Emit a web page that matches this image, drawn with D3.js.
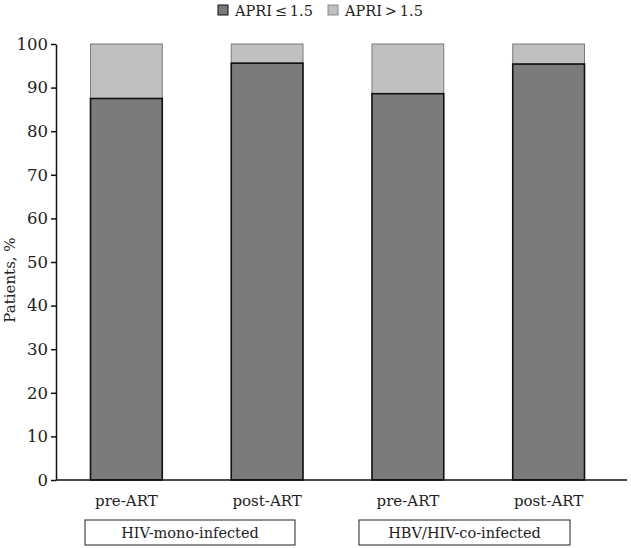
<!DOCTYPE html>
<html>
<head>
<meta charset="utf-8">
<script src="https://cdn.jsdelivr.net/npm/d3@7"></script>
<style>
  body { margin: 0; background: #fff; }
  text { font-family: "DejaVu Serif", serif; fill: #222; }
</style>
</head>
<body>
<svg id="chart" width="631" height="548"></svg>
<script>
var categories = ["pre-ART", "post-ART", "pre-ART", "post-ART"];
var groups = ["HIV-mono-infected", "HBV/HIV-co-infected"];
var apriLow = [87.5, 95.6, 88.6, 95.4];   // APRI <= 1.5
var apriHigh = [12.5, 4.4, 11.4, 4.6];    // APRI > 1.5
var yTicks = [0, 10, 20, 30, 40, 50, 60, 70, 80, 90, 100];
var seriesNames = ["APRI\u2009\u2264\u20091.5", "APRI\u2009>\u20091.5"];

var svg = d3.select("#chart");
var colors = ["#7b7b7b", "#c0c0c0"];

var keys = categories.map(function(d, i) { return i; });

var x = d3.scaleBand()
    .domain(keys)
    .range([56, 619])
    .paddingInner(0.49)
    .paddingOuter(0.245);

var y = d3.scaleLinear()
    .domain([0, 100])
    .range([480, 44]);

// stacked data
var rows = keys.map(function(i) { return { i: i, low: apriLow[i], high: apriHigh[i] }; });
var stack = d3.stack().keys(["low", "high"]);
var layers = stack(rows);

// light top parts first, then dark bars on top of them
svg.append("g").selectAll("rect")
    .data(layers[1])
    .enter().append("rect")
    .attr("x", function(d) { return x(d.data.i); })
    .attr("y", function(d) { return y(d[1]); })
    .attr("width", x.bandwidth())
    .attr("height", function(d) { return y(d[0]) - y(d[1]); })
    .style("fill", colors[1])
    .style("stroke", "#7a7a7a")
    .style("stroke-width", 1);

svg.append("g").selectAll("rect")
    .data(layers[0])
    .enter().append("rect")
    .attr("x", function(d) { return x(d.data.i); })
    .attr("y", function(d) { return y(d[1]); })
    .attr("width", x.bandwidth())
    .attr("height", function(d) { return y(d[0]) - y(d[1]); })
    .style("fill", colors[0])
    .style("stroke", "#111")
    .style("stroke-width", 1.6);

// y axis
var yAxis = svg.append("g")
    .attr("transform", "translate(56,0)")
    .call(d3.axisLeft(y).tickValues(yTicks).tickSize(5).tickSizeOuter(0).tickPadding(3));
yAxis.select(".domain").attr("stroke", "#111").attr("stroke-width", 1.5);
yAxis.selectAll(".tick line").attr("stroke", "#111").attr("stroke-width", 1.5);
yAxis.selectAll("text")
    .style("font-family", "DejaVu Serif, serif")
    .style("font-size", "16.5px")
    .style("fill", "#222");

// x axis line
svg.append("line")
    .attr("x1", 56).attr("x2", 627)
    .attr("y1", y(0)).attr("y2", y(0))
    .attr("stroke", "#111").attr("stroke-width", 1.5);

// category labels
svg.append("g").selectAll("text")
    .data(keys)
    .enter().append("text")
    .attr("x", function(i) { return x(i) + x.bandwidth() / 2; })
    .attr("y", 506)
    .attr("text-anchor", "middle")
    .style("font-size", "15px")
    .text(function(i) { return categories[i]; });

// group boxes
var groupBoxes = [[85, 295], [359, 570]];
groups.forEach(function(g, k) {
  svg.append("rect")
    .attr("x", groupBoxes[k][0]).attr("y", 520)
    .attr("width", groupBoxes[k][1] - groupBoxes[k][0]).attr("height", 25)
    .style("fill", "none").style("stroke", "#222").style("stroke-width", 1);
  svg.append("text")
    .attr("x", (groupBoxes[k][0] + groupBoxes[k][1]) / 2)
    .attr("y", 538)
    .attr("text-anchor", "middle")
    .style("font-size", "14.5px")
    .text(g);
});

// y label
svg.append("text")
    .attr("transform", "translate(15,280) rotate(-90)")
    .attr("text-anchor", "middle")
    .style("font-size", "15px")
    .text("Patients, %");

// legend
var legendX = [218, 328];
seriesNames.forEach(function(name, k) {
  svg.append("rect")
    .attr("x", legendX[k]).attr("y", 5)
    .attr("width", 10).attr("height", 10)
    .style("fill", colors[k])
    .style("stroke", k == 0 ? "#111" : "#888")
    .style("stroke-width", 1);
  svg.append("text")
    .attr("x", legendX[k] + 17)
    .attr("y", 16)
    .style("font-size", "14.5px")
    .text(name);
});
</script>
</body>
</html>
